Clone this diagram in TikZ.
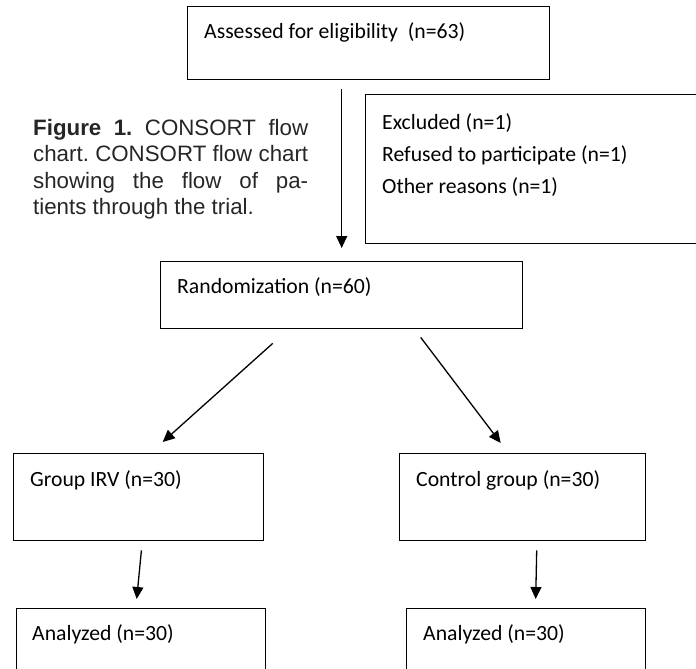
\documentclass[tikz,border=0pt]{standalone}
\usepackage{fontspec}
\setmainfont{Carlito}
\newfontfamily\capfont{Liberation Sans}
\usetikzlibrary{arrows.meta,positioning}

\begin{document}
\frenchspacing
\begin{tikzpicture}[x=1pt,y=-1pt,
  my box/.style={draw, line width=1.4pt, rectangle, inner sep=0pt, anchor=north west},
  my text/.style={anchor=base west, inner sep=0pt, font=\fontsize{21.7}{26}\selectfont},
  my arrow/.style={-{Triangle[length=12pt,width=11pt]}, line width=1.3pt},
  ]
  \useasboundingbox (0,0) rectangle (696,669);
  \clip (0,0) rectangle (696,669);
  % boxes
  \node [my box, minimum width=362pt, minimum height=73pt] (assess) at (187,6) {};
  \node [my box, minimum width=340pt, minimum height=149pt] (excl) at (365,94) {};
  \node [my box, minimum width=362pt, minimum height=67pt] (rand) at (160,261) {};
  \node [my box, minimum width=250pt, minimum height=87pt] (irv) at (13,453) {};
  \node [my box, minimum width=246pt, minimum height=87pt] (ctrl) at (399,453) {};
  \node [my box, minimum width=249pt, minimum height=80pt] (anirv) at (16,608) {};
  \node [my box, minimum width=239pt, minimum height=80pt] (anctrl) at (406,608) {};
  % texts in the boxes
  \node [my text] (assesstxt) at ([xshift=17pt,yshift=-33pt]assess.north west) {Assessed for eligibility\ \ (n=63)};
  \node [my text] (excltxt) at ([xshift=17pt,yshift=-35pt]excl.north west) {Excluded (n=1)};
  \node [my text] (refused) at ([yshift=-32pt]excltxt.base west) {Refused to participate\ (n=1)};
  \node [my text] (other) at ([yshift=-32pt]refused.base west) {Other reasons (n=1)};
  \node [my text] (randtxt) at ([xshift=17pt,yshift=-32pt]rand.north west) {Randomization (n=60)};
  \node [my text] (irvtxt) at ([xshift=17pt,yshift=-33pt]irv.north west) {Group IRV (n=30)};
  \node [my text] (ctrltxt) at ([xshift=17pt,yshift=-33pt]ctrl.north west) {Control group (n=30)};
  \node [my text] (anirvtxt) at ([xshift=16pt,yshift=-32pt]anirv.north west) {Analyzed (n=30)};
  \node [my text] (anctrltxt) at ([xshift=17pt,yshift=-32pt]anctrl.north west) {Analyzed (n=30)};
  % caption
  \node [anchor=base west, inner sep=0pt, text=black!85,
         font=\capfont\fontsize{22.3}{26.5}\selectfont] (caption) at (33,135)
    {\parbox[t]{275pt}{%
      \makebox[275pt][s]{\textbf{Figure 1.} CONSORT flow}\\
      \makebox[275pt][s]{chart. CONSORT flow chart}\\
      \makebox[275pt][s]{showing the flow of pa-}\\
      tients through the trial.}};
  % arrows
  \coordinate (down) at (rand.north |- assess.south);
  \draw [my arrow] ([yshift=-9pt]down) -- ([yshift=13pt]rand.north);
  \draw [my arrow] ([xshift=-69pt,yshift=-14pt]rand.south) -- ([xshift=24pt,yshift=11pt]irv.north);
  \draw [my arrow] ([xshift=79pt,yshift=-8pt]rand.south) -- ([xshift=-22pt,yshift=10pt]ctrl.north);
  \draw [my arrow] ([xshift=2.7pt,yshift=-9pt]irv.south) -- ([xshift=-4.5pt,yshift=9pt]anirv.north);
  \draw [my arrow] ([xshift=14pt,yshift=-9pt]ctrl.south) -- ([xshift=9.5pt,yshift=9pt]anctrl.north);
\end{tikzpicture}
\end{document}
